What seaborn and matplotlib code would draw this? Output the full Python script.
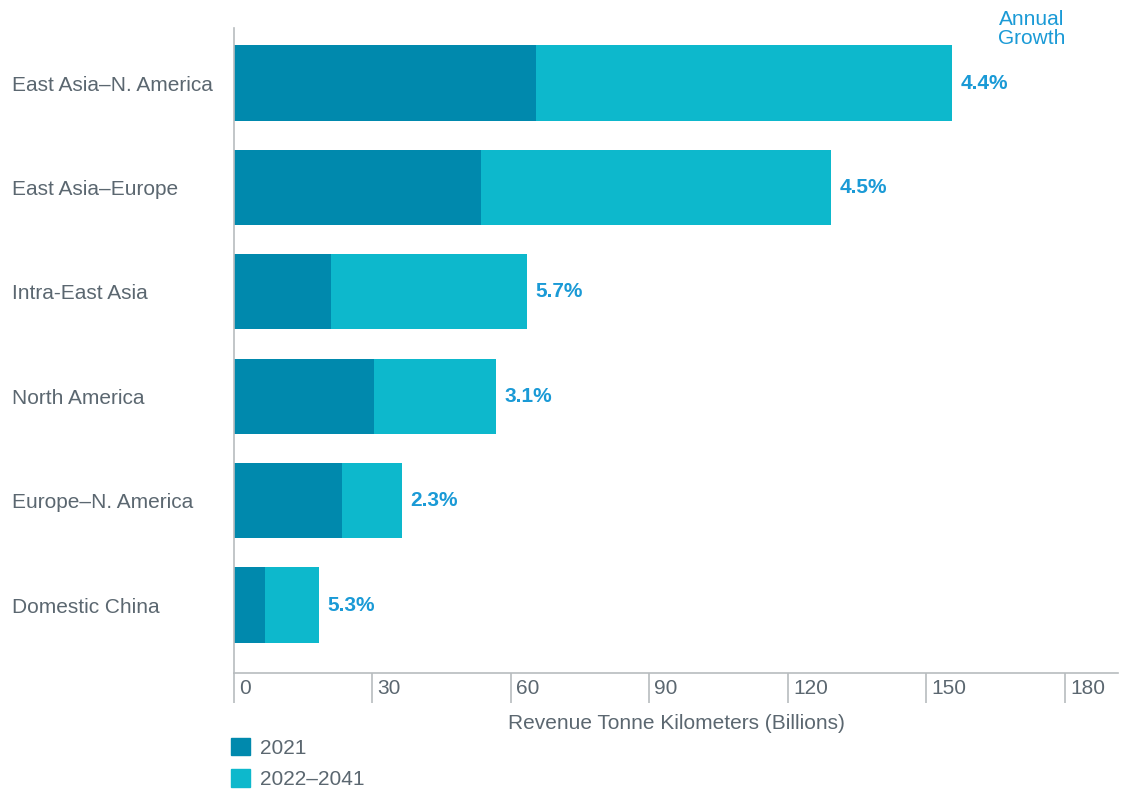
import matplotlib
matplotlib.use("Agg")
import matplotlib.pyplot as plt
import matplotlib.transforms as mtransforms
from matplotlib.patches import Patch
import pandas as pd
import seaborn as sns

# Data
routes = ["East Asia–N. America", "East Asia–Europe", "Intra-East Asia",
          "North America", "Europe–N. America", "Domestic China"]
rtk_2021 = [65.4, 53.5, 21.0, 30.3, 23.4, 6.7]
rtk_2041 = [155.5, 129.3, 63.5, 56.7, 36.4, 18.4]
growth = ["4.4%", "4.5%", "5.7%", "3.1%", "2.3%", "5.3%"]
xticks = [0, 30, 60, 90, 120, 150, 180]

dark = "#0089ad"
light = "#0db8cc"
blue_txt = "#1a9ad6"
grey_txt = "#5b6770"
axis_col = "#b8bcbf"

df = pd.DataFrame({"route": routes, "y2021": rtk_2021, "y2041": rtk_2041})

sns.set_style("white")
plt.rcParams["font.family"] = ["Liberation Sans", "DejaVu Sans"]

fig = plt.figure(figsize=(11.24, 7.93), dpi=100)
ax = fig.add_axes([234 / 1124, 1 - 673 / 793, (1118 - 234) / 1124, (673 - 28) / 793])

sns.barplot(data=df, x="y2041", y="route", color=light, width=0.72, ax=ax,
            saturation=1, linewidth=0)
sns.barplot(data=df, x="y2021", y="route", color=dark, width=0.72, ax=ax,
            saturation=1, linewidth=0)

ax.set_xlim(0, 191.5)
ax.set_ylim(5.651, -0.527)

# growth labels
for i, (tot, g) in enumerate(zip(rtk_2041, growth)):
    ax.annotate(g, (tot, i), xytext=(6, 0), textcoords="offset points",
                ha="left", va="center", fontsize=15, fontweight="bold",
                color=blue_txt)

fig.text(1032 / 1124, 1 - 29 / 793, "Annual\nGrowth", ha="center", va="center",
         fontsize=15, color=blue_txt, linespacing=1.05)

# spines
for s in ["top", "right"]:
    ax.spines[s].set_visible(False)
for s in ["left", "bottom"]:
    ax.spines[s].set_color(axis_col)
    ax.spines[s].set_linewidth(1.2)

# x ticks: long ticks below axis, labels to the right of them
ax.set_xticks(xticks)
ax.tick_params(axis="x", direction="out", length=21.6, width=1.2,
               color=axis_col, labelbottom=False, bottom=True)
trans = mtransforms.blended_transform_factory(ax.transData, ax.transAxes)
trans = trans + mtransforms.ScaledTranslation(5 / 100, -16 / 100, fig.dpi_scale_trans)
for t in xticks:
    ax.text(t, 0, str(t), transform=trans, ha="left", va="center",
            fontsize=15, color=grey_txt)

# y labels left aligned at the figure edge
ax.tick_params(axis="y", length=0, pad=160, labelsize=15, labelcolor=grey_txt)
for lab in ax.get_yticklabels():
    lab.set_horizontalalignment("left")
ax.set_ylabel("")
ax.set_xlabel("Revenue Tonne Kilometers (Billions)", fontsize=15,
              color=grey_txt, labelpad=8)

handles = [Patch(color=dark, label="2021"), Patch(color=light, label="2022–2041")]
fig.legend(handles=handles, loc="upper left",
           bbox_to_anchor=(231 / 1124, 1 - 738 / 793), frameon=False,
           fontsize=15, handlelength=0.9, handleheight=0.9, handletextpad=0.5,
           labelspacing=0.55, borderpad=0, borderaxespad=0, labelcolor=grey_txt)

fig.savefig("out.png", dpi=100)
